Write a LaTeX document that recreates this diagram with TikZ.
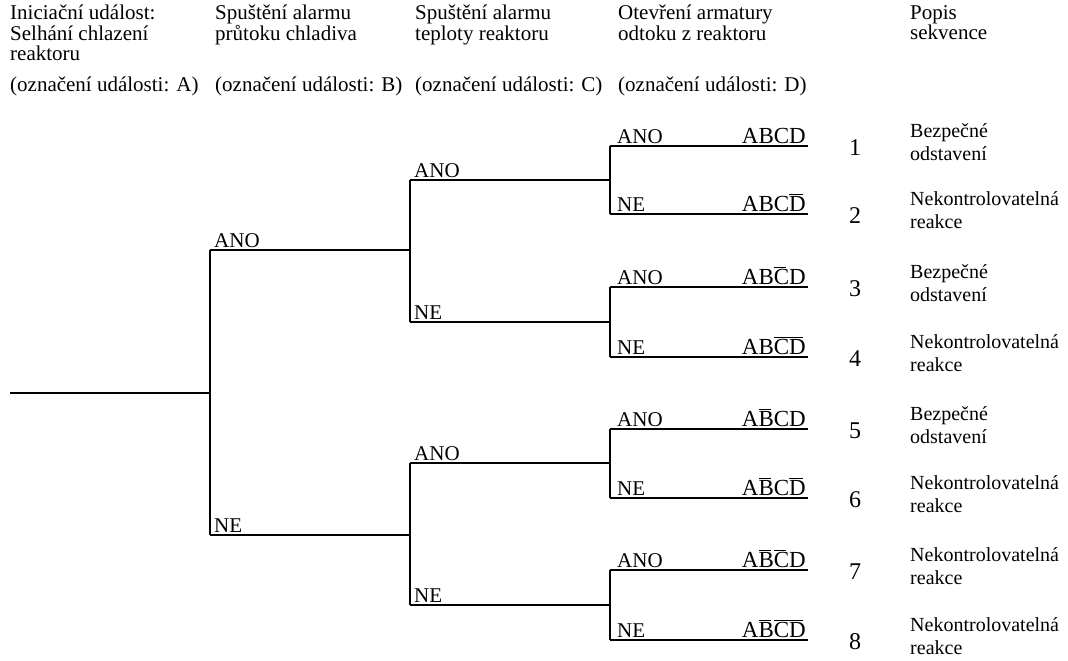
\documentclass[tikz,border=0pt]{standalone}
\usepackage{fontspec}
\setmainfont{Liberation Serif}
\usetikzlibrary{positioning}
\newcommand{\ngt}[1]{$\overline{\mbox{#1}\mkern-2mu}\mkern2mu$}

\begin{document}
\begin{tikzpicture}[
    x=1pt, y=-1pt,
    font=\fontsize{21}{20.5}\selectfont,
    head/.style={anchor=north west, align=left, inner sep=0pt},
    tag/.style={anchor=west, inner sep=0pt},
    branch/.style={anchor=base west, inner sep=0pt},
    seq/.style={anchor=base east, inner sep=0pt, font=\fontsize{23}{24}\selectfont},
    num/.style={inner sep=0pt, font=\fontsize{24}{26}\selectfont},
    desc/.style={anchor=west, align=left, inner sep=0pt, font=\fontsize{20}{23}\selectfont},
    edge/.style={line width=1.3pt}
]
\useasboundingbox (0,0) rectangle (1068,661);

\node[head] (hA) at (10,5) {Iniciační událost:\\Selhání chlazení\\reaktoru};
\node[head] (hB) at (215,5) {Spuštění alarmu\\průtoku chladiva};
\node[head] (hC) at (415,5) {Spuštění alarmu\\teploty reaktoru};
\node[head] (hD) at (618,5) {Otevření armatury\\odtoku z reaktoru};
\node[head] (hE) at (910,5) {Popis\\sekvence};
\node[tag] (tA) at (10,86) {(označení události: A)};
\node[tag] (tB) at (215,86) {(označení události: B)};
\node[tag] (tC) at (415,86) {(označení události: C)};
\node[tag] (tD) at (618,86) {(označení události: D)};

\coordinate (init) at (10,393);
\coordinate (a) at (210,393);
\coordinate (a1) at (210,250);
\coordinate (a2) at (210,535);
\coordinate (b1) at (410,250);
\coordinate (b2) at (410,535);
\coordinate (b11) at (410,180);
\coordinate (b12) at (410,322);
\coordinate (b21) at (410,463);
\coordinate (b22) at (410,605);
\coordinate (c11) at (610,180);
\coordinate (c12) at (610,322);
\coordinate (c21) at (610,463);
\coordinate (c22) at (610,605);

\draw[edge] (init) -- (a);
\draw[edge] (a1) -- (a2);
\draw[edge] (a1) -- (b1);
\draw[edge] (a2) -- (b2);
\draw[edge] (b11) -- (b12);
\draw[edge] (b21) -- (b22);
\draw[edge] (b11) -- (c11);
\draw[edge] (b12) -- (c12);
\draw[edge] (b21) -- (c21);
\draw[edge] (b22) -- (c22);

\node[branch] (la1) at (214,247) {ANO};
\node[branch] (la2) at (214,532) {NE};
\node[branch] (lb11) at (414,177) {ANO};
\node[branch] (lb12) at (414,319) {NE};
\node[branch] (lb21) at (414,460) {ANO};
\node[branch] (lb22) at (414,602) {NE};

\foreach \i/\y/\b/\s/\d in {
    1/146/ANO/{ABCD}/{Bezpečné\\odstavení},
    2/214/NE/{ABC\ngt{D}}/{Nekontrolovatelná\\reakce},
    3/287/ANO/{AB\ngt{C}D}/{Bezpečné\\odstavení},
    4/357/NE/{AB\ngt{CD}}/{Nekontrolovatelná\\reakce},
    5/429/ANO/{A\ngt{B}CD}/{Bezpečné\\odstavení},
    6/498/NE/{A\ngt{B}C\ngt{D}}/{Nekontrolovatelná\\reakce},
    7/570/ANO/{A\ngt{B}\ngt{C}D}/{Nekontrolovatelná\\reakce},
    8/640/NE/{A\ngt{B}\ngt{CD}}/{Nekontrolovatelná\\reakce}} {
    \coordinate (d\i) at (610,\y);
    \coordinate (e\i) at (808,\y);
    \draw[edge] (d\i) -- (e\i);
    \node[branch] (lc\i) at (617,\y-3) {\b};
    \node[seq] (s\i) at (806,\y-3) {\s};
    \node[num] (n\i) at (855,\y+2) {\i};
    \node[desc] (p\i) at (910,\y-4) {\d};
}
\draw[edge] (d1) -- (d2);
\draw[edge] (d3) -- (d4);
\draw[edge] (d5) -- (d6);
\draw[edge] (d7) -- (d8);

\end{tikzpicture}
\end{document}
